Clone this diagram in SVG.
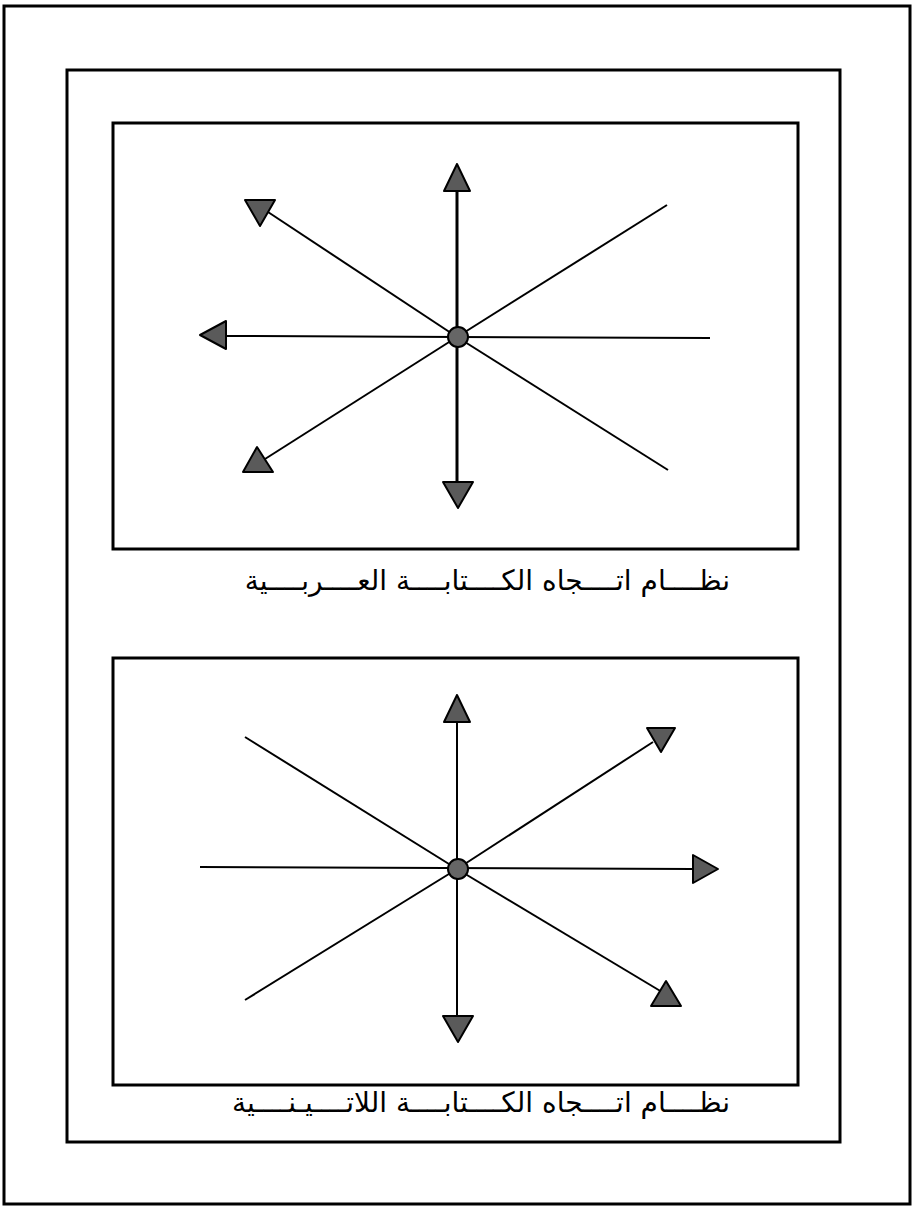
<svg xmlns="http://www.w3.org/2000/svg" width="915" height="1212" viewBox="0 0 915 1212">
<style>
.frame{fill:none;stroke:#000;stroke-width:3}
.ln{stroke:#000;stroke-width:2;fill:none}
.vln{stroke:#000;stroke-width:3;fill:none}
.ah{fill:#5a5a5a;stroke:#000;stroke-width:2;stroke-linejoin:round}
.hub{fill:#666;stroke:#000;stroke-width:2}
.lbl{font-family:"DejaVu Sans","Noto Sans",sans-serif;font-size:28px;fill:#000;direction:rtl}
</style>
<rect width="915" height="1212" fill="#fff"/>
<rect id="outer" class="frame" x="4" y="6" width="906" height="1198"/>
<rect id="inner" class="frame" x="67" y="70" width="773" height="1072"/>

<g id="box-arabic">
<rect class="frame" x="113" y="123" width="685" height="426"/>
</g>
<g id="connectors">
<!-- top diagram -->
<line class="vln" x1="457" y1="190" x2="457" y2="482"/>
<line class="ln" x1="226" y1="336" x2="710" y2="338"/>
<line class="ln" x1="268" y1="212" x2="457" y2="337"/>
<line class="ln" x1="265" y1="459" x2="457" y2="337"/>
<line class="ln" x1="457" y1="337" x2="667" y2="205"/>
<line class="ln" x1="457" y1="337" x2="668" y2="470"/>
<!-- bottom diagram -->
<line class="ln" x1="457" y1="722" x2="457" y2="1016"/>
<line class="ln" x1="200" y1="867" x2="693" y2="869"/>
<line class="ln" x1="457" y1="869" x2="653" y2="742"/>
<line class="ln" x1="457" y1="869" x2="662" y2="992"/>
<line class="ln" x1="245" y1="737" x2="457" y2="869"/>
<line class="ln" x1="245" y1="1000" x2="457" y2="869"/>
</g>
<g id="arrowheads-top">
<polygon class="ah" points="444,191 470,191 457,164"/>
<polygon class="ah" points="443,482 473,482 458,508"/>
<polygon class="ah" points="226,321 226,349 200,335"/>
<polygon class="ah" points="245,200 275,200 260,226"/>
<polygon class="ah" points="243,472 273,472 257,447"/>
</g>
<g id="hub-top"><circle class="hub" cx="458" cy="337" r="10"/></g>

<g id="label-arabic">
<text class="lbl" x="730" y="590" text-anchor="start">نظــــام اتــــجاه الكــــتابــــة العــــربــــية</text>
</g>

<g id="box-latin">
<rect class="frame" x="113" y="658" width="685" height="427"/>
</g>
<g id="arrowheads-bottom">
<polygon class="ah" points="444,722 470,722 457,695"/>
<polygon class="ah" points="443,1016 473,1016 458,1042"/>
<polygon class="ah" points="693,855 693,883 718,869"/>
<polygon class="ah" points="647,728 675,728 661,752"/>
<polygon class="ah" points="651,1006 681,1006 666,981"/>
</g>
<g id="hub-bottom"><circle class="hub" cx="458" cy="869" r="10"/></g>

<g id="label-latin">
<text class="lbl" x="730" y="1112" text-anchor="start">نظــــام اتــــجاه الكــــتابــــة اللاتــــيـنــــية</text>
</g>
</svg>
